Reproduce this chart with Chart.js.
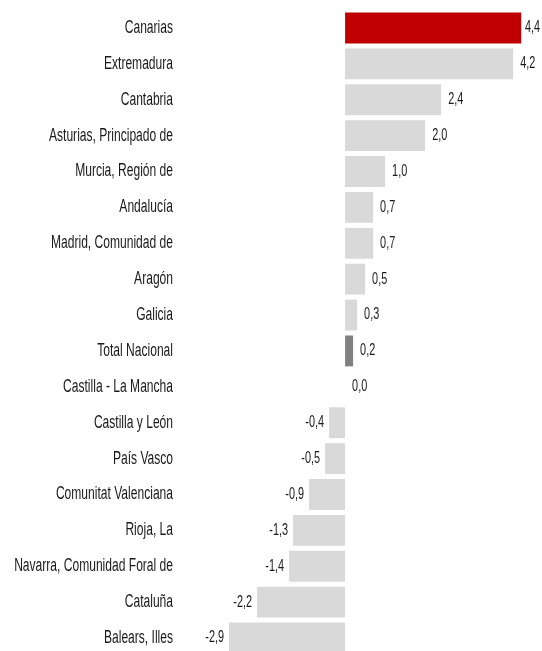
<!DOCTYPE html>
<html>
<head>
<meta charset="utf-8">
<script src="https://cdn.jsdelivr.net/npm/chart.js@4/dist/chart.umd.min.js"></script>
<style>
html,body{margin:0;padding:0;background:#fff;overflow:hidden;}
#wrap{position:relative;width:542px;height:656px;}
</style>
</head>
<body>
<div id="wrap"><canvas id="c"></canvas></div>
<script>
const categories = [
  "Canarias","Extremadura","Cantabria","Asturias, Principado de","Murcia, Región de",
  "Andalucía","Madrid, Comunidad de","Aragón","Galicia","Total Nacional",
  "Castilla - La Mancha","Castilla y León","País Vasco","Comunitat Valenciana",
  "Rioja, La","Navarra, Comunidad Foral de","Cataluña","Balears, Illes"
];
const values = [4.4,4.2,2.4,2.0,1.0,0.7,0.7,0.5,0.3,0.2,0.0,-0.4,-0.5,-0.9,-1.3,-1.4,-2.2,-2.9];
const highlight = "Canarias";
const totalLabel = "Total Nacional";

const colors = categories.map(c => c === highlight ? "#C00000" : (c === totalLabel ? "#808080" : "#D9D9D9"));

const FONT = "'Liberation Sans', Arial, sans-serif";
const SX_CAT = 0.67;
const SX_VAL = 0.68;

const labelPlugin = {
  id: 'labels',
  afterDatasetsDraw(chart) {
    const ctx = chart.ctx;
    const meta = chart.getDatasetMeta(0);
    const W = chart.width;
    ctx.save();
    ctx.fillStyle = "#1a1a1a";
    ctx.textBaseline = "middle";
    meta.data.forEach((bar, i) => {
      const y = bar.y;
      ctx.save();
      ctx.translate(173, y);
      ctx.scale(SX_CAT, 1);
      ctx.font = "18px " + FONT;
      ctx.textAlign = "right";
      ctx.fillText(categories[i], 0, 0);
      ctx.restore();
      const v = values[i];
      const txt = v.toFixed(1).replace('.', ',');
      ctx.save();
      ctx.font = "16px " + FONT;
      if (v >= 0) {
        const w = ctx.measureText(txt).width * SX_VAL;
        let x = bar.x + 7;
        if (x + w > W - 2) x = W - 2 - w;
        ctx.translate(x, y);
        ctx.textAlign = "left";
      } else {
        ctx.translate(bar.x - 5, y);
        ctx.textAlign = "right";
      }
      ctx.scale(SX_VAL, 1);
      ctx.fillText(txt, 0, 0);
      ctx.restore();
    });
    ctx.restore();
  }
};

new Chart(document.getElementById('c'), {
  type: 'bar',
  data: {
    labels: categories,
    datasets: [{
      data: values,
      backgroundColor: colors,
      borderWidth: 0,
      barPercentage: 0.86,
      categoryPercentage: 1.0
    }]
  },
  options: {
    indexAxis: 'y',
    responsive: true,
    maintainAspectRatio: false,
    animation: false,
    layout: { padding: { left: 185, top: 10, right: 0, bottom: 0 } },
    plugins: { legend: { display: false }, tooltip: { enabled: false } },
    scales: {
      x: { display: false, min: -4, max: 4.92 },
      y: { display: false }
    }
  },
  plugins: [labelPlugin]
});
</script>
</body>
</html>
